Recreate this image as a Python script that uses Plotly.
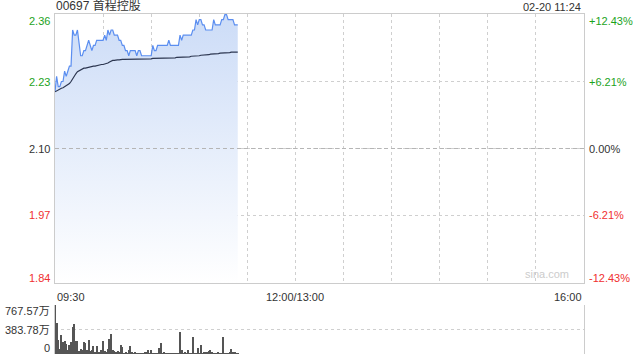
import plotly.graph_objects as go

# ---------------- data ----------------
minutes = list(range(115))  # minutes since 09:30 (trading time)
price = [
    2.21, 2.24, 2.22, 2.22, 2.23, 2.23, 2.25, 2.24, 2.25, 2.26,
    2.26, 2.33, 2.32, 2.32, 2.33, 2.30, 2.28, 2.28, 2.29, 2.29,
    2.30, 2.31, 2.30, 2.29, 2.30, 2.30, 2.31, 2.31, 2.31, 2.31,
    2.31, 2.32, 2.31, 2.33, 2.32, 2.33, 2.33, 2.32, 2.32, 2.32,
    2.31, 2.31, 2.30, 2.30, 2.29, 2.29, 2.28, 2.29, 2.29, 2.29,
    2.29, 2.28, 2.29, 2.29, 2.28, 2.28, 2.28, 2.28, 2.28, 2.28,
    2.28, 2.30, 2.29, 2.29, 2.30, 2.30, 2.30, 2.30, 2.30, 2.30,
    2.30, 2.31, 2.30, 2.30, 2.30, 2.30, 2.30, 2.30, 2.32, 2.31,
    2.32, 2.32, 2.32, 2.32, 2.32, 2.32, 2.33, 2.33, 2.35, 2.34,
    2.35, 2.35, 2.34, 2.34, 2.33, 2.33, 2.33, 2.33, 2.33, 2.35,
    2.34, 2.34, 2.34, 2.34, 2.35, 2.35, 2.36, 2.36, 2.35, 2.35,
    2.35, 2.35, 2.34, 2.34, 2.34,
]
avg_price = [
    2.210, 2.212, 2.214, 2.215, 2.217, 2.218, 2.220, 2.222, 2.224, 2.226,
    2.230, 2.236, 2.241, 2.245, 2.249, 2.251, 2.253, 2.255, 2.256, 2.256,
    2.257, 2.258, 2.259, 2.259, 2.260, 2.260, 2.261, 2.262, 2.262, 2.263,
    2.263, 2.264, 2.264, 2.266, 2.268, 2.270, 2.271, 2.271, 2.272, 2.272,
    2.272, 2.273, 2.273, 2.273, 2.273, 2.273, 2.273, 2.273, 2.273, 2.273,
    2.273, 2.274, 2.274, 2.274, 2.274, 2.274, 2.274, 2.274, 2.274, 2.274,
    2.274, 2.275, 2.275, 2.275, 2.275, 2.275, 2.275, 2.275, 2.275, 2.275,
    2.275, 2.276, 2.276, 2.276, 2.276, 2.276, 2.277, 2.277, 2.277, 2.277,
    2.277, 2.278, 2.278, 2.278, 2.278, 2.279, 2.279, 2.279, 2.280, 2.280,
    2.280, 2.281, 2.281, 2.281, 2.282, 2.282, 2.282, 2.283, 2.283, 2.283,
    2.284, 2.284, 2.284, 2.285, 2.285, 2.285, 2.286, 2.286, 2.286, 2.286,
    2.287, 2.287, 2.287, 2.287, 2.287,
]
volume = [  # 万
    767.57, 490, 219, 78, 297, 193, 204, 157, 63, 141,
    188, 428, 470, 204, 204, 47, 78, 63, 193, 167,
    63, 219, 47, 63, 125, 31, 125, 31, 31, 63,
    208, 47, 16, 78, 240, 313, 63, 47, 31, 47,
    16, 141, 110, 10, 16, 5, 63, 125, 21, 10,
    37, 10, 5, 5, 10, 3, 21, 37, 63, 10,
    63, 5, 5, 5, 5, 88, 167, 5, 21, 10,
    5, 5, 10, 10, 3, 5, 10, 5, 339, 63,
    10, 37, 5, 63, 5, 10, 261, 10, 5, 94,
    10, 141, 10, 21, 37, 37, 47, 63, 21, 5,
    10, 5, 21, 10, 5, 261, 10, 10, 5, 21,
    78, 21, 37, 5, 3,
]
prev_close = 2.10
price_ticks = [2.36, 2.23, 2.10, 1.97, 1.84]
pct_labels = ["+12.43%", "+6.21%", "0.00%", "-6.21%", "-12.43%"]
vol_ticks = [0, 383.78, 767.57]
vol_labels = ["0", "383.78万", "767.57万"]
time_ticks = [0, 150, 330]
time_labels = ["09:30", "12:00/13:00", "16:00"]
title_text = "00697 首程控股"
stamp_text = "02-20 11:24"

GREEN = "#1ca31c"
RED = "#f03030"
DARK = "#333333"
GRID = "#cfcfcf"
FONT = "Liberation Sans, Arial, Noto Sans CJK SC, sans-serif"

ymin = prev_close * (1 - 0.1243)
ymax = prev_close * (1 + 0.1243)

fig = go.Figure()

fig.add_trace(go.Scatter(
    x=minutes, y=price, mode="lines",
    line=dict(color="#5b8ef0", width=1.2),
    fill="tozeroy",
    fillgradient=dict(type="vertical",
                      colorscale=[[0, "rgba(255,255,255,1)"], [1, "#ccdcf7"]],
                      start=ymin, stop=ymax),
    xaxis="x", yaxis="y", hoverinfo="skip", showlegend=False,
))
fig.add_trace(go.Scatter(
    x=minutes, y=avg_price, mode="lines",
    line=dict(color="#2c3650", width=1.2),
    xaxis="x", yaxis="y", hoverinfo="skip", showlegend=False,
))
fig.add_trace(go.Bar(
    x=minutes, y=volume, width=0.65,
    marker=dict(color="#555555", line=dict(width=0)),
    xaxis="x2", yaxis="y2", hoverinfo="skip", showlegend=False,
))

fig.add_shape(type="line", xref="x", yref="y", x0=0, x1=330,
              y0=prev_close, y1=prev_close,
              line=dict(color="#b5b5b5", width=1, dash="4px,3px"), layer="above")

annotations = []
def col(i):
    return GREEN if i < 2 else (DARK if i == 2 else RED)

for i, (v, pl) in enumerate(zip(price_ticks, pct_labels)):
    ys = -6 if i == 0 else (4 if i == len(price_ticks) - 1 else 0)
    annotations.append(dict(x=0, xref="paper", y=v, yref="y", text=f"{v:.2f}",
                            xanchor="right", yanchor="middle", xshift=-3, yshift=ys,
                            showarrow=False, font=dict(size=11, color=col(i), family=FONT)))
    annotations.append(dict(x=1, xref="paper", y=v, yref="y", text=pl,
                            xanchor="left", yanchor="middle", xshift=3, yshift=ys,
                            showarrow=False, font=dict(size=11, color=col(i), family=FONT)))

anchors = ["left", "center", "right"]
for t, lab, an in zip(time_ticks, time_labels, anchors):
    annotations.append(dict(x=t, xref="x", y=ymin, yref="y", text=lab,
                            xanchor=an, yanchor="top", yshift=-6,
                            showarrow=False, font=dict(size=11, color=DARK, family=FONT)))

vshift = {0: 6, 1: 0, 2: -6}
for i, (v, lab) in enumerate(zip(vol_ticks, vol_labels)):
    annotations.append(dict(x=0, xref="paper", y=v, yref="y2", text=lab,
                            xanchor="right", yanchor="middle", xshift=-3, yshift=vshift[i],
                            showarrow=False, font=dict(size=11, color=DARK, family=FONT)))

annotations.append(dict(x=0, xref="paper", y=1, yref="paper", text=title_text,
                        xanchor="left", yanchor="bottom", xshift=-1, yshift=-1,
                        showarrow=False, font=dict(size=12, color=DARK, family=FONT)))
annotations.append(dict(x=1, xref="paper", y=1, yref="paper", text=stamp_text,
                        xanchor="right", yanchor="bottom", xshift=-1, yshift=-1,
                        showarrow=False, font=dict(size=11, color=DARK, family=FONT)))
annotations.append(dict(x=322, xref="x", y=ymin, yref="y", text="sina.com",
                        xanchor="right", yanchor="bottom", yshift=1,
                        showarrow=False, font=dict(size=11, color="#cccccc", family=FONT)))

fig.update_layout(
    width=640, height=360,
    margin=dict(l=55, r=56, t=14, b=6),
    paper_bgcolor="white", plot_bgcolor="white",
    font=dict(family=FONT, size=11, color=DARK),
    bargap=0,
    annotations=annotations,
    xaxis=dict(domain=[0, 1], range=[0, 330], anchor="y",
               tickvals=list(range(0, 331, 30)), showticklabels=False, ticks="",
               showgrid=True, gridcolor=GRID, griddash="dot", gridwidth=1,
               showline=True, linecolor="#cccccc", linewidth=1, mirror=True,
               zeroline=False, fixedrange=True),
    yaxis=dict(domain=[(354 - 283) / 340, 1], range=[ymin, ymax], anchor="x",
               tickvals=price_ticks, showticklabels=False, ticks="",
               showgrid=True, gridcolor=GRID, griddash="dot", gridwidth=1,
               showline=True, linecolor="#cccccc", linewidth=1, mirror=True,
               zeroline=False, fixedrange=True),
    xaxis2=dict(domain=[0, 1], range=[0, 330], anchor="y2", matches="x",
                showticklabels=False, ticks="", showgrid=False,
                showline=False, zeroline=False),
    yaxis2=dict(domain=[0, (354 - 305) / 340], range=[0, 767.57], anchor="x2",
                tickvals=vol_ticks, showticklabels=False, ticks="",
                showgrid=True, gridcolor=GRID, griddash="dot", gridwidth=1,
                showline=True, linecolor="#cccccc", linewidth=1, mirror=True,
                zeroline=False, fixedrange=True),
)

fig.write_html("out.html")
